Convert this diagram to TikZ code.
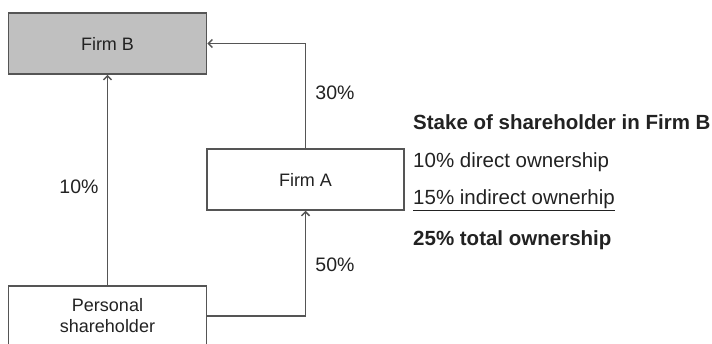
\documentclass[tikz,border=0pt]{standalone}
\usepackage{fontspec}
\setmainfont{Liberation Sans}
\usetikzlibrary{arrows.meta}

\definecolor{linegray}{HTML}{555555}
\definecolor{boxfill}{HTML}{C0C0C0}
\definecolor{textdark}{HTML}{222222}

\tikzset{
  firm/.style={draw=linegray, line width=1.5pt, minimum width=198pt, minimum height=61pt,
    inner sep=0pt, align=center, text=textdark, font=\fontsize{18}{21}\selectfont},
  share/.style={draw=linegray, line width=1.5pt, -{Straight Barb[length=4pt,width=8pt]}},
  pct/.style={text=textdark, font=\fontsize{19.5}{22}\selectfont},
  stake/.style={anchor=west, inner sep=0pt, text=textdark, font=\fontsize{20.5}{23}\selectfont}
}

\begin{document}
\begin{tikzpicture}[x=1pt,y=-1pt]
        \useasboundingbox (0,0) rectangle (712,343);

        % the three holders
        \node[firm, fill=boxfill] (firmB) at (107.5,43.5) {Firm B};
        \node[firm, minimum width=197pt] (firmA) at (305.5,179.5) {Firm A};
        \node[firm, minimum height=60pt] (person) at (107.5,316) {Personal\\shareholder};

        % ownership links
        \draw[share] (person.north) -- (firmB.south);
        \draw[share] (firmA.north) |- (firmB.east);
        \draw[share] (person.east) -| (firmA.south);

        \node[pct] (dirB) at (79,187) {10\%};
        \node[pct] (indB) at (335,93) {30\%};
        \node[pct] (indA) at (335,265) {50\%};

        % stake summary
        \node[stake, font=\fontsize{20.5}{23}\selectfont\bfseries] (title) at (413,122) {Stake of shareholder in Firm B};
        \node[stake] (direct) at (413,162) {10\% direct ownership};
        \node[stake] (indirect) at (413,200) {\underline{15\% indirect ownerhip}};
        \node[stake, font=\fontsize{20.5}{23}\selectfont\bfseries] (total) at (413,240) {25\% total ownership};
      \end{tikzpicture}
\end{document}
